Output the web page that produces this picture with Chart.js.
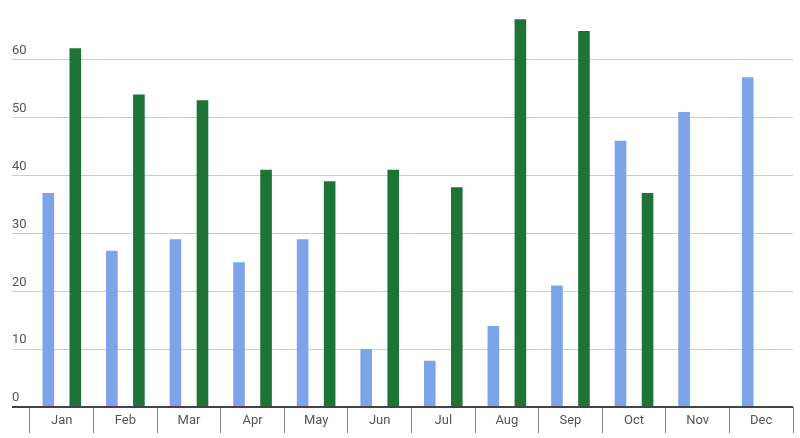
<!DOCTYPE html>
<html>
<head>
<meta charset="utf-8">
<script src="https://cdn.jsdelivr.net/npm/chart.js@4/dist/chart.umd.min.js"></script>
<style>
  html, body { margin: 0; padding: 0; background: #fff; }
  #wrap { width: 800px; height: 438px; }
</style>
</head>
<body>
<div id="wrap"><canvas id="chart"></canvas></div>
<script>
(function () {

    "use strict";

    // Datos
    var months = ['Jan', 'Feb', 'Mar', 'Apr', 'May', 'Jun', 'Jul', 'Aug', 'Sep', 'Oct', 'Nov', 'Dec'];
    var seriesBlue = [37, 27, 29, 25, 29, 10, 8, 14, 21, 46, 51, 57];
    var seriesGreen = [62, 54, 53, 41, 39, 41, 38, 67, 65, 37, null, null];
    var yTicks = [0, 10, 20, 30, 40, 50, 60];

    var font = { family: 'Roboto', size: 13 };

    new Chart(document.getElementById('chart'), {
        type: 'bar',
        data: {
            labels: months,
            datasets: [{
                data: seriesBlue,
                backgroundColor: '#7ba4e9',
                categoryPercentage: 0.85,
                barPercentage: 0.43
            }, {
                data: seriesGreen,
                backgroundColor: '#1d7436',
                categoryPercentage: 0.85,
                barPercentage: 0.43
            }]
        },
        options: {
            responsive: true,
            maintainAspectRatio: false,
            animation: false,
            layout: { padding: { left: 12, right: 7, top: 2, bottom: 5 } },
            plugins: {
                legend: { display: false },
                tooltip: { enabled: false }
            },
            scales: {
                x: {
                    border: { display: false },
                    grid: {
                        offset: true,
                        drawOnChartArea: false,
                        tickLength: 26,
                        color: '#888',
                        lineWidth: 1
                    },
                    ticks: {
                        font: font,
                        color: '#555',
                        padding: -20,
                        maxRotation: 0
                    },
                    afterFit: function (scale) { scale.height = 26; }
                },
                y: {
                    min: 0,
                    max: 70,
                    border: { display: false },
                    afterBuildTicks: function (scale) {
                        scale.ticks = yTicks.map(function (v) { return { value: v }; });
                    },
                    grid: {
                        tickLength: 18,
                        color: function (ctx) {
                            return ctx.tick && ctx.tick.value === 0 ? '#444' : '#ccc';
                        },
                        lineWidth: function (ctx) {
                            return ctx.tick && ctx.tick.value === 0 ? 2 : 1;
                        }
                    },
                    ticks: {
                        font: font,
                        color: '#555',
                        crossAlign: 'far',
                        labelOffset: -9
                    },
                    afterFit: function (scale) {
                        scale.width = 18;
                        // la etiqueta superior no debe empujar el area del grafico
                        scale.paddingTop = 0;
                        scale.paddingBottom = 0;
                    }
                }
            }
        }
    });

})();
</script>
</body>
</html>
